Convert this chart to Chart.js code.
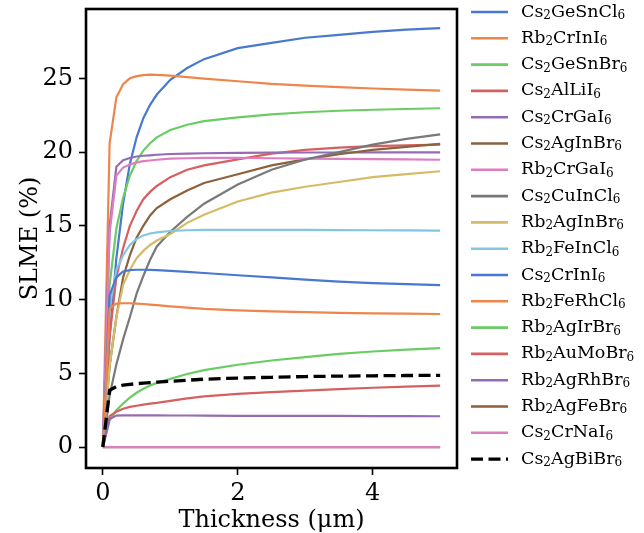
<!DOCTYPE html>
<html>
<head>
<meta charset="utf-8">
<script src="https://cdn.jsdelivr.net/npm/chart.js@4.4.1/dist/chart.umd.min.js"></script>
<style>
  body { margin: 0; background: #fff; }
  #wrap { width: 644px; height: 533px; }
</style>
</head>
<body>
<div id="wrap"><canvas id="slmeChart" width="644" height="533"></canvas></div>
<script>
// Thickness grid (um) shared by every curve
const thickness = [0, 0.1, 0.2, 0.3, 0.4, 0.5, 0.6, 0.7, 0.8, 1, 1.25, 1.5, 2, 2.5, 3, 3.5, 4, 4.5, 5];

const materials = [
    'Cs2GeSnCl6', 'Rb2CrInI6', 'Cs2GeSnBr6', 'Cs2AlLiI6', 'Cs2CrGaI6', 'Cs2AgInBr6',
    'Rb2CrGaI6', 'Cs2CuInCl6', 'Rb2AgInBr6', 'Rb2FeInCl6', 'Cs2CrInI6', 'Rb2FeRhCl6',
    'Rb2AgIrBr6', 'Rb2AuMoBr6', 'Rb2AgRhBr6', 'Rb2AgFeBr6', 'Cs2CrNaI6', 'Cs2AgBiBr6'
];

// SLME (%), one array per material
const cs2GeSnCl6 = [0, 7.5, 12.8, 16.5, 19.2, 21.0, 22.3, 23.2, 23.9, 24.9, 25.7, 26.3, 27.05, 27.4, 27.75, 27.95, 28.15, 28.3, 28.4];
const rb2CrInI6  = [0, 20.6, 23.7, 24.6, 25.0, 25.15, 25.22, 25.25, 25.24, 25.18, 25.08, 24.98, 24.8, 24.62, 24.5, 24.4, 24.31, 24.23, 24.17];
const cs2GeSnBr6 = [0, 11.0, 14.8, 16.9, 18.4, 19.4, 20.1, 20.6, 21.0, 21.5, 21.85, 22.1, 22.35, 22.55, 22.7, 22.8, 22.87, 22.92, 22.97];
const cs2AlLiI6  = [0, 7.5, 11.5, 13.5, 15.0, 16.0, 16.8, 17.3, 17.7, 18.3, 18.8, 19.1, 19.5, 19.9, 20.15, 20.3, 20.4, 20.45, 20.5];
const cs2CrGaI6  = [0, 15.0, 19.0, 19.45, 19.6, 19.7, 19.75, 19.78, 19.82, 19.87, 19.9, 19.92, 19.95, 19.96, 19.97, 19.97, 19.98, 19.98, 19.98];
const cs2AgInBr6 = [0, 5.5, 8.8, 11.5, 13.0, 14.2, 15.0, 15.7, 16.2, 16.8, 17.4, 17.9, 18.5, 19.1, 19.5, 19.85, 20.15, 20.35, 20.55];
const rb2CrGaI6  = [0, 14.5, 18.4, 18.95, 19.15, 19.3, 19.38, 19.43, 19.48, 19.55, 19.58, 19.6, 19.6, 19.58, 19.56, 19.54, 19.52, 19.5, 19.48];
const cs2CuInCl6 = [0, 3.5, 5.6, 7.3, 8.8, 10.4, 11.6, 12.7, 13.6, 14.6, 15.6, 16.5, 17.8, 18.8, 19.5, 20.0, 20.5, 20.9, 21.2];
const rb2AgInBr6 = [0, 5.5, 8.8, 11.0, 12.0, 12.8, 13.3, 13.7, 14.0, 14.45, 15.2, 15.75, 16.65, 17.25, 17.65, 17.97, 18.3, 18.5, 18.7];
const rb2FeInCl6 = [0, 9.5, 12.0, 13.0, 13.7, 14.1, 14.35, 14.48, 14.55, 14.65, 14.7, 14.72, 14.73, 14.73, 14.72, 14.71, 14.7, 14.69, 14.68];
const cs2CrInI6  = [0, 10.3, 11.5, 11.9, 12.0, 12.02, 12.02, 12.01, 12.0, 11.95, 11.88, 11.8, 11.65, 11.5, 11.35, 11.22, 11.12, 11.05, 10.98];
const rb2FeRhCl6 = [0, 9.4, 9.72, 9.75, 9.75, 9.72, 9.7, 9.66, 9.62, 9.54, 9.45, 9.37, 9.27, 9.2, 9.15, 9.1, 9.07, 9.04, 9.02];
const rb2AgIrBr6 = [0, 1.8, 2.5, 2.95, 3.35, 3.68, 3.95, 4.17, 4.35, 4.62, 4.95, 5.22, 5.58, 5.87, 6.1, 6.32, 6.48, 6.6, 6.71];
const rb2AuMoBr6 = [0, 2.1, 2.4, 2.6, 2.72, 2.8, 2.88, 2.95, 3.0, 3.13, 3.3, 3.43, 3.6, 3.73, 3.83, 3.93, 4.02, 4.1, 4.16];
const rb2AgRhBr6 = [0, 1.9, 2.13, 2.15, 2.15, 2.15, 2.15, 2.15, 2.15, 2.14, 2.14, 2.13, 2.12, 2.12, 2.11, 2.11, 2.1, 2.1, 2.09];
const rb2AgFeBr6 = [0, 0, 0, 0, 0, 0, 0, 0, 0, 0, 0, 0, 0, 0, 0, 0, 0, 0, 0];
const cs2CrNaI6  = [0, 0, 0, 0, 0, 0, 0, 0, 0, 0, 0, 0, 0, 0, 0, 0, 0, 0, 0];
const cs2AgBiBr6 = [0, 3.85, 4.1, 4.2, 4.25, 4.3, 4.33, 4.37, 4.4, 4.46, 4.53, 4.6, 4.68, 4.73, 4.78, 4.81, 4.83, 4.85, 4.86];

const slmeValues = [
    cs2GeSnCl6, rb2CrInI6, cs2GeSnBr6, cs2AlLiI6, cs2CrGaI6, cs2AgInBr6,
    rb2CrGaI6, cs2CuInCl6, rb2AgInBr6, rb2FeInCl6, cs2CrInI6, rb2FeRhCl6,
    rb2AgIrBr6, rb2AuMoBr6, rb2AgRhBr6, rb2AgFeBr6, cs2CrNaI6, cs2AgBiBr6
];

const xTicks = [0, 2, 4];
const yTicks = [0, 5, 10, 15, 20, 25];

// seaborn "muted" cycle, last curve is the black dashed reference
const palette = ['#4878d0', '#ee854a', '#6acc64', '#d65f5f', '#956cb4', '#8c613c',
                 '#dc7ec0', '#797979', '#d5bb67', '#82c6e2'];

const SERIF = "'DejaVu Serif', serif";
const N = materials.length;

const datasets = materials.map((name, i) => {
    const dashed = i === N - 1;
    return {
        label: name,
        data: thickness.map((t, k) => ({ x: t, y: slmeValues[i][k] })),
        borderColor: dashed ? '#000000' : palette[i % palette.length],
        borderWidth: dashed ? 3.3 : 2.2,
        borderDash: dashed ? [12, 5.5] : [],
        pointRadius: 0,
        tension: 0,
        fill: false,
        order: N - i // later curves on top, like matplotlib
    };
});

// draws a formula with its digits lowered as subscripts
function drawFormula(ctx, text, x, y, size) {
    const parts = text.match(/\d+|\D+/g);
    let cx = x;
    parts.forEach(p => {
        const isSub = /^\d+$/.test(p);
        ctx.font = (isSub ? Math.round(size * 0.7) : size) + 'px ' + SERIF;
        ctx.fillText(p, cx, isSub ? y + size * 0.22 : y);
        cx += ctx.measureText(p).width;
    });
}

const decorPlugin = {
    id: 'decor',
    afterDraw(chart) {
        const ctx = chart.ctx;
        const a = chart.chartArea;
        ctx.save();
        // frame
        ctx.strokeStyle = '#000';
        ctx.lineWidth = 2.6;
        ctx.strokeRect(a.left, a.top, a.right - a.left, a.bottom - a.top);

        // axis titles
        ctx.fillStyle = '#000';
        ctx.font = '24px ' + SERIF;
        ctx.textAlign = 'center';
        ctx.textBaseline = 'alphabetic';
        ctx.fillText('Thickness (μm)', (a.left + a.right) / 2, 527);
        ctx.translate(37, (a.top + a.bottom) / 2);
        ctx.rotate(-Math.PI / 2);
        ctx.fillText('SLME (%)', 0, 0);
        ctx.restore();

        // legend
        ctx.save();
        ctx.textAlign = 'left';
        ctx.textBaseline = 'middle';
        ctx.fillStyle = '#000';
        chart.data.datasets.forEach((ds, i) => {
            const y = 12 + i * 26.3;
            ctx.beginPath();
            ctx.strokeStyle = ds.borderColor;
            ctx.lineWidth = i === N - 1 ? 3.3 : 2.6;
            ctx.setLineDash(i === N - 1 ? [12, 5.5] : []);
            ctx.moveTo(471, y);
            ctx.lineTo(508, y);
            ctx.stroke();
            ctx.setLineDash([]);
            drawFormula(ctx, ds.label, 521, y, 17.5);
        });
        ctx.restore();
    }
};

new Chart(document.getElementById('slmeChart'), {
    type: 'line',
    data: { datasets },
    plugins: [decorPlugin],
    options: {
        responsive: false,
        animation: false,
        layout: { padding: { left: 0, top: 9, right: 187, bottom: 0 } },
        plugins: { legend: { display: false }, tooltip: { enabled: false } },
        scales: {
            x: {
                type: 'linear',
                min: -0.25,
                max: 5.25,
                afterFit: s => { s.height = 65; s.paddingLeft = 0; s.paddingRight = 0; },
                afterBuildTicks: s => { s.ticks = xTicks.map(v => ({ value: v })); },
                grid: { drawOnChartArea: false, tickLength: 7, tickColor: '#000', tickWidth: 1.6 },
                border: { display: false },
                ticks: { color: '#000', font: { family: SERIF, size: 24 }, padding: 4, maxRotation: 0 }
            },
            y: {
                type: 'linear',
                min: -1.42,
                max: 29.7,
                afterFit: s => { s.width = 86; s.paddingTop = 0; s.paddingBottom = 0; },
                afterBuildTicks: s => { s.ticks = yTicks.map(v => ({ value: v })); },
                grid: { drawOnChartArea: false, tickLength: 7, tickColor: '#000', tickWidth: 1.6 },
                border: { display: false },
                ticks: { color: '#000', font: { family: SERIF, size: 24 }, padding: 6 }
            }
        }
    }
});
</script>
</body>
</html>
